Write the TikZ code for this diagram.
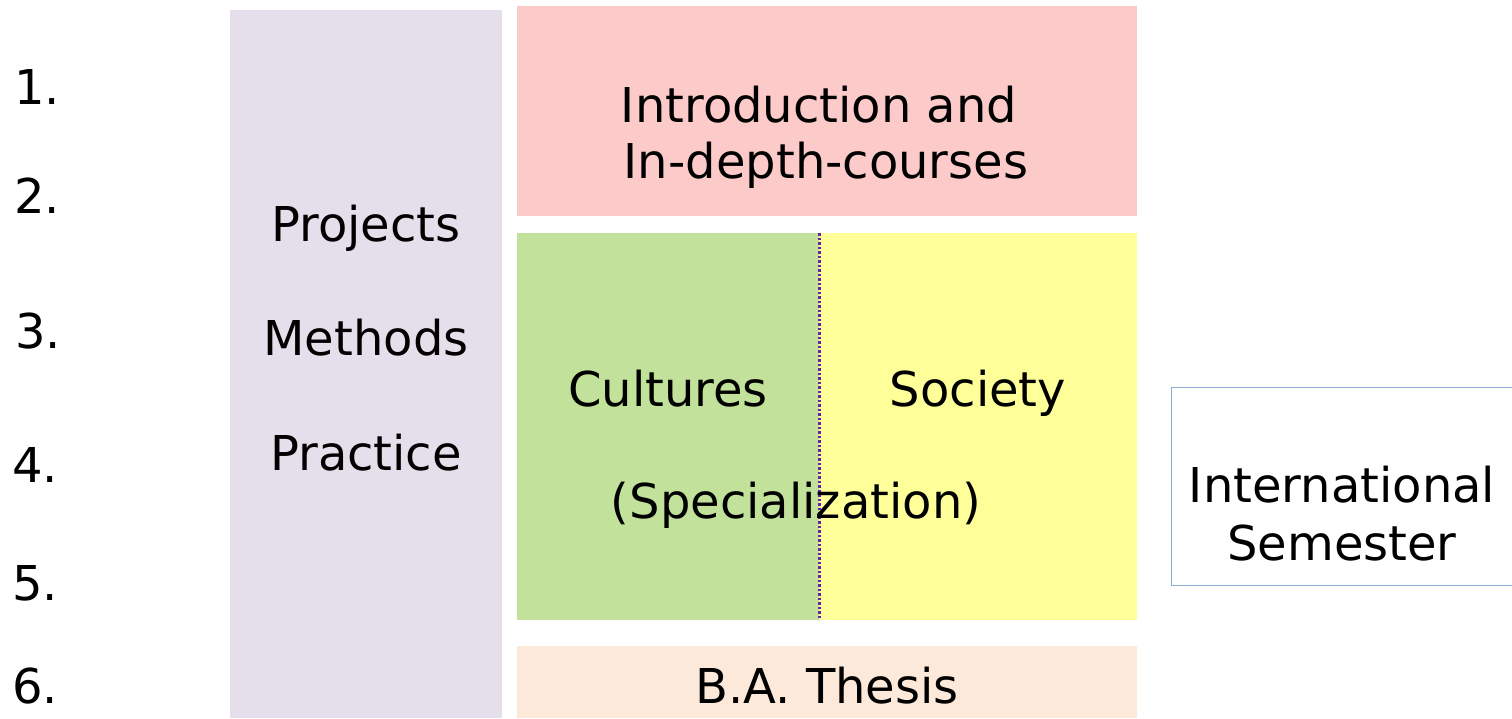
\documentclass[tikz,border=0pt]{standalone}
\usepackage{fontspec}
\setmainfont{DejaVu Sans}
\definecolor{lav}{HTML}{E5DFEC}
\definecolor{pinkbox}{HTML}{FCCAC9}
\definecolor{greenbox}{HTML}{C2E19A}
\definecolor{yellowbox}{HTML}{FFFF99}
\definecolor{peach}{HTML}{FCE9DA}
\definecolor{divider}{HTML}{6A1FA8}
\definecolor{intborder}{HTML}{8EADD6}
\tikzset{
  lbl/.style={inner sep=0pt, anchor=base, font=\fontsize{48}{56}\selectfont},
  num/.style={inner sep=0pt, anchor=base west, font=\fontsize{48}{56}\selectfont},
  panel/.style={inner sep=0pt, anchor=north west, draw=none}
}
\begin{document}
\begin{tikzpicture}[x=1pt,y=-1pt]
\useasboundingbox (0,0) rectangle (1512,718);
% panels
\node[panel, fill=lav, minimum width=272pt, minimum height=708pt] (proj) at (230,10) {};
\node[panel, fill=pinkbox, minimum width=620pt, minimum height=210pt] (intro) at (517,6) {};
\node[panel, fill=greenbox, minimum width=302pt, minimum height=387pt] (cult) at (517,233) {};
\node[panel, fill=yellowbox, minimum width=318pt, minimum height=387pt] (soc) at (819,233) {};
\node[panel, fill=peach, minimum width=620pt, minimum height=72pt] (thesis) at (517,646) {};
\coordinate (dtop) at (819.5,233);
\coordinate (dbot) at (819.5,620);
\draw[divider, line width=2.2pt, dash pattern=on 2.5pt off 2pt] (dtop) -- (dbot);
% international box (right edge outside picture)
\coordinate (ia) at (1530,387.5);
\coordinate (ib) at (1171.5,387.5);
\coordinate (ic) at (1171.5,585.5);
\coordinate (id) at (1530,585.5);
\draw[intborder, line width=1.5pt] (ia) -- (ib) -- (ic) -- (id);
% numbers
\node[num] (n1) at (14,104) {1.};
\node[num] (n2) at (14,213) {2.};
\node[num] (n3) at (15,348) {3.};
\node[num] (n4) at (12,482) {4.};
\node[num] (n5) at (12,600) {5.};
\node[num] (n6) at (12,703) {6.};
% texts
\node[lbl] (t1) at (366,241) {Projects};
\node[lbl] (t2) at (366,355) {Methods};
\node[lbl] (t3) at (366,470) {Practice};
\node[lbl] (t4) at (819,122) {Introduction and};
\node[lbl] (t5) at (826,178) {In-depth-courses};
\node[lbl] (t6) at (668,406) {Cultures};
\node[lbl] (t7) at (978,406) {Society};
\node[lbl] (t8) at (796,518) {(Specialization)};
\node[lbl] (t9) at (1342,502) {International};
\node[lbl] (t10) at (1342,560) {Semester};
\node[lbl] (t11) at (827,703) {B.A. Thesis};
\end{tikzpicture}
\end{document}
